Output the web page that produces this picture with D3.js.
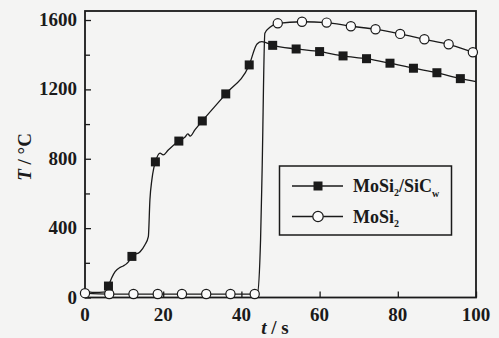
<!DOCTYPE html>
<html>
<head>
<meta charset="utf-8">
<script src="https://cdn.jsdelivr.net/npm/d3@7"></script>
<style>
  body { margin: 0; background: #f4f4f3; }
  svg { display: block; }
  text { font-family: "Liberation Serif", "Times New Roman", serif; font-weight: bold; fill: #1a1a1a; }
</style>
</head>
<body>
<div id="chart"></div>
<script>
// MoSi2/SiCw composite - traced curve (t in s, T in degC)
var compTime = [0, 1.8, 5.5, 6, 7.7, 9, 9.8, 11.1, 12, 14.1, 15.3, 16.2, 16.6, 17.1, 17.6, 18, 19.2, 20, 21.3, 24, 25.6, 26.3, 26.9, 28.1, 30, 36, 42, 44, 45.2, 48, 54, 60, 66, 72, 78, 84, 90, 96, 100];
var compTemp = [40, 30, 33, 66, 149, 174, 182, 206, 239, 264, 303, 351, 562, 678, 747, 781, 832, 822, 851, 902, 925, 943, 931, 966, 1018, 1174, 1341, 1462, 1475, 1454, 1433, 1418, 1393, 1377, 1351, 1322, 1296, 1262, 1245];
// composite markers (squares)
var compMarkTime = [6, 12, 18, 24, 30, 36, 42, 48, 54, 60, 66, 72, 78, 84, 90, 96];
var compMarkTemp = [66, 237, 782, 902, 1018, 1174, 1341, 1454, 1433, 1418, 1393, 1377, 1351, 1322, 1296, 1262];

// monolithic MoSi2 - traced curve
var monoTime = [0, 6.2, 12.4, 18.6, 24.8, 31, 37.2, 43.4, 44.1, 44.9, 45.3, 46, 47.3, 49.3, 55.5, 61.8, 68, 74.3, 80.6, 86.8, 93, 99.2, 100];
var monoTemp = [25, 20, 20, 20, 20, 20, 20, 20, 25, 331, 735, 1524, 1558, 1581, 1590, 1585, 1564, 1547, 1520, 1489, 1460, 1414, 1408];
// MoSi2 markers (open circles)
var monoMarkTime = [0, 6.2, 12.4, 18.6, 24.8, 31, 37.2, 43.4, 49.3, 55.5, 61.8, 68, 74.3, 80.6, 86.8, 93, 99.2];
var monoMarkTemp = [25, 20, 20, 20, 20, 20, 20, 20, 1581, 1590, 1585, 1564, 1547, 1520, 1489, 1460, 1414];

var xTicks = [0, 20, 40, 60, 80, 100];
var yTicks = [0, 400, 800, 1200, 1600];
var yMinorTicks = [200, 600, 1000, 1400];

var W = 499, H = 338;
var plotL = 85, plotR = 476, plotT = 11, plotB = 297.5;

var svg = d3.select("#chart").append("svg")
    .attr("width", W)
    .attr("height", H);

var x = d3.scaleLinear().domain([0, 100]).range([plotL, plotR]);
var y = d3.scaleLinear().domain([0, 1652]).range([plotB, plotT]);

var ink = "#1a1a1a";

function styleTicks(g) {
    g.select(".domain").remove();
    g.selectAll("line").attr("stroke", ink).attr("stroke-width", 1.3);
}

// ticks (inward)
svg.append("g")
    .attr("transform", "translate(" + plotL + ",0)")
    .call(d3.axisRight(y).tickValues(yTicks).tickSize(6).tickFormat(""))
    .call(styleTicks);
svg.append("g")
    .attr("transform", "translate(" + plotL + ",0)")
    .call(d3.axisRight(y).tickValues(yMinorTicks).tickSize(5).tickFormat(""))
    .call(styleTicks);
svg.append("g")
    .attr("transform", "translate(0," + plotB + ")")
    .call(d3.axisTop(x).tickValues(xTicks).tickSize(6).tickFormat(""))
    .call(styleTicks);

// tick labels
svg.selectAll(".ylab").data(yTicks).enter().append("text")
    .attr("x", plotL - 8)
    .attr("y", function(d){ return y(d) + 6; })
    .attr("text-anchor", "end")
    .style("font-size", "19px")
    .text(function(d){ return d; });
svg.selectAll(".xlab").data(xTicks).enter().append("text")
    .attr("x", function(d){ return x(d); })
    .attr("y", plotB + 23)
    .attr("text-anchor", "middle")
    .style("font-size", "19px")
    .text(function(d){ return d; });

// frame
svg.append("rect")
    .attr("x", plotL).attr("y", plotT)
    .attr("width", plotR - plotL).attr("height", plotB - plotT)
    .attr("fill", "none").attr("stroke", ink).attr("stroke-width", 1.8);

// axis titles
var yt = svg.append("text")
    .attr("transform", "translate(31,157) rotate(-90)")
    .attr("text-anchor", "middle")
    .style("font-size", "19px");
yt.append("tspan").style("font-style", "italic").text("T");
yt.append("tspan").text(" / \u00b0C");

var xt = svg.append("text")
    .attr("x", 275).attr("y", 334)
    .attr("text-anchor", "middle")
    .style("font-size", "19px");
xt.append("tspan").style("font-style", "italic").text("t");
xt.append("tspan").text(" / s");

// lines
var line = d3.line()
    .x(function(d){ return x(d[0]); })
    .y(function(d){ return y(d[1]); })
    .curve(d3.curveMonotoneX);

svg.append("path")
    .datum(d3.zip(monoTime, monoTemp))
    .attr("d", line)
    .attr("fill", "none").attr("stroke", ink).attr("stroke-width", 1.3);
svg.append("path")
    .datum(d3.zip(compTime, compTemp))
    .attr("d", line)
    .attr("fill", "none").attr("stroke", ink).attr("stroke-width", 1.3);

// markers
var sq = 9, cr = 4.6;
svg.selectAll(".circ").data(d3.zip(monoMarkTime, monoMarkTemp)).enter().append("circle")
    .attr("cx", function(d){ return x(d[0]); })
    .attr("cy", function(d){ return y(d[1]); })
    .attr("r", cr)
    .attr("fill", "#fbfbfb").attr("stroke", ink).attr("stroke-width", 1.2);
svg.selectAll(".sq").data(d3.zip(compMarkTime, compMarkTemp)).enter().append("rect")
    .attr("x", function(d){ return x(d[0]) - sq / 2; })
    .attr("y", function(d){ return y(d[1]) - sq / 2; })
    .attr("width", sq).attr("height", sq)
    .attr("fill", ink);

// legend
var lg = svg.append("g");
lg.append("rect")
    .attr("x", 279.5).attr("y", 166)
    .attr("width", 172).attr("height", 69)
    .attr("fill", "none").attr("stroke", ink).attr("stroke-width", 1.5);

var rows = [186, 216.5];
rows.forEach(function(ry, i){
    lg.append("line")
        .attr("x1", 292).attr("x2", 343)
        .attr("y1", ry).attr("y2", ry)
        .attr("stroke", ink).attr("stroke-width", 1.3);
    if (i == 0) {
        lg.append("rect")
            .attr("x", 318 - sq / 2).attr("y", ry - sq / 2)
            .attr("width", sq).attr("height", sq)
            .attr("fill", ink);
    } else {
        lg.append("circle")
            .attr("cx", 318).attr("cy", ry).attr("r", cr + 0.6)
            .attr("fill", "#fbfbfb").attr("stroke", ink).attr("stroke-width", 1.2);
    }
});

var t1 = lg.append("text").attr("x", 353).attr("y", rows[0] + 6).style("font-size", "18px");
t1.append("tspan").text("MoSi");
t1.append("tspan").attr("dy", 4).style("font-size", "10px").text("2");
t1.append("tspan").attr("dy", -4).text("/SiC");
t1.append("tspan").attr("dy", 5).style("font-size", "10px").text("w");

var t2 = lg.append("text").attr("x", 353).attr("y", rows[1] + 6).style("font-size", "18px");
t2.append("tspan").text("MoSi");
t2.append("tspan").attr("dy", 4).style("font-size", "10px").text("2");
</script>
</body>
</html>
